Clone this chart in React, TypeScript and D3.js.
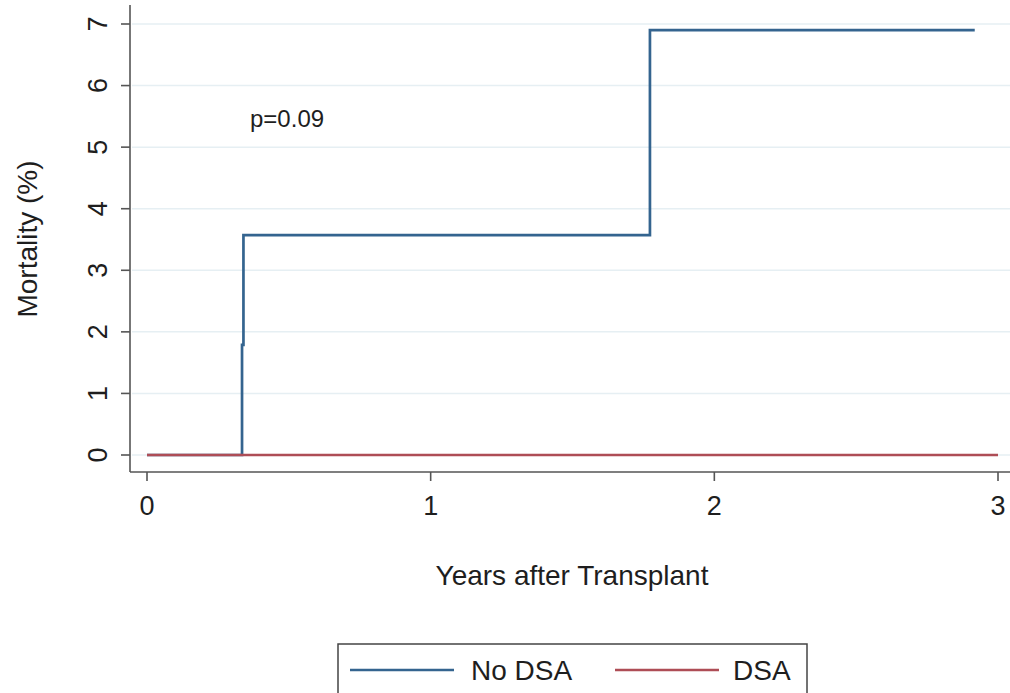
import React, { useRef, useEffect } from 'react';
import * as d3 from 'd3';

// Kaplan-Meier style cumulative mortality (step functions)
const noDsaYears = [0, 0.335, 0.34, 1.773, 2.918];
const noDsaMortality = [0, 1.79, 3.57, 6.9, 6.9];
const dsaYears = [0, 3];
const dsaMortality = [0, 0];

const xTicks = [0, 1, 2, 3];
const yTicks = [0, 1, 2, 3, 4, 5, 6, 7];
const legendLabels = ['No DSA', 'DSA'];
const pValueText = 'p=0.09';

function App() {
  const ref = useRef<SVGSVGElement>(null);

  useEffect(() => {
    const svg = d3.select(ref.current);
    svg.selectAll('*').remove();

    const width = 1010;
    const height = 693;
    const font = 'Liberation Sans, Arial, sans-serif';
    const blue = '#34648f';
    const red = '#ae4d56';
    const textColor = '#1e1e1e';

    const axisX = 130;
    const axisY = 472;

    const x = d3.scaleLinear().domain([0, 3]).range([147, 998]);
    const y = d3.scaleLinear().domain([0, 7]).range([455, 24]);

    svg.append('rect').attr('width', width).attr('height', height).attr('fill', '#fff');

    // gridlines
    svg.append('g')
      .selectAll('line')
      .data(yTicks)
      .enter().append('line')
      .attr('x1', axisX + 2)
      .attr('x2', width)
      .attr('y1', d => y(d))
      .attr('y2', d => y(d))
      .attr('stroke', '#e6eff3')
      .attr('stroke-width', 1.5);

    // y axis
    const yAxis = svg.append('g');
    yAxis.append('line')
      .attr('x1', axisX).attr('x2', axisX)
      .attr('y1', 5).attr('y2', axisY)
      .attr('stroke', '#555').attr('stroke-width', 1.6);
    yAxis.selectAll('.tick')
      .data(yTicks)
      .enter().append('line')
      .attr('x1', axisX - 9).attr('x2', axisX)
      .attr('y1', d => y(d)).attr('y2', d => y(d))
      .attr('stroke', '#555').attr('stroke-width', 1.6);
    yAxis.selectAll('text')
      .data(yTicks)
      .enter().append('text')
      .attr('transform', d => `translate(107,${y(d)}) rotate(-90)`)
      .attr('text-anchor', 'middle')
      .attr('font-family', font)
      .attr('font-size', 27)
      .attr('fill', textColor)
      .text(d => d);

    svg.append('text')
      .attr('transform', `translate(37,239) rotate(-90)`)
      .attr('text-anchor', 'middle')
      .attr('font-family', font)
      .attr('font-size', 28)
      .attr('fill', textColor)
      .text('Mortality (%)');

    // x axis
    const xAxis = svg.append('g');
    xAxis.append('line')
      .attr('x1', axisX).attr('x2', width)
      .attr('y1', axisY).attr('y2', axisY)
      .attr('stroke', '#555').attr('stroke-width', 1.6);
    xAxis.selectAll('.tick')
      .data(xTicks)
      .enter().append('line')
      .attr('x1', d => x(d)).attr('x2', d => x(d))
      .attr('y1', axisY).attr('y2', axisY + 9)
      .attr('stroke', '#555').attr('stroke-width', 1.6);
    xAxis.selectAll('text')
      .data(xTicks)
      .enter().append('text')
      .attr('x', d => x(d))
      .attr('y', 515)
      .attr('text-anchor', 'middle')
      .attr('font-family', font)
      .attr('font-size', 27)
      .attr('fill', textColor)
      .text(d => d);

    svg.append('text')
      .attr('x', 572)
      .attr('y', 585)
      .attr('text-anchor', 'middle')
      .attr('font-family', font)
      .attr('font-size', 28)
      .attr('fill', textColor)
      .text('Years after Transplant');

    // step lines (DSA drawn last, it sits on top at zero)
    const line = d3.line<[number, number]>()
      .x(d => x(d[0]))
      .y(d => y(d[1]))
      .curve(d3.curveStepAfter);

    svg.append('path')
      .datum(noDsaYears.map((t, i) => [t, noDsaMortality[i]] as [number, number]))
      .attr('d', line)
      .attr('fill', 'none')
      .attr('stroke', blue)
      .attr('stroke-width', 2.7);

    svg.append('path')
      .datum(dsaYears.map((t, i) => [t, dsaMortality[i]] as [number, number]))
      .attr('d', line)
      .attr('fill', 'none')
      .attr('stroke', red)
      .attr('stroke-width', 2.7);

    svg.append('text')
      .attr('x', 250)
      .attr('y', 127)
      .attr('font-family', font)
      .attr('font-size', 24)
      .attr('fill', textColor)
      .text(pValueText);

    // legend
    const legend = svg.append('g');
    legend.append('rect')
      .attr('x', 338).attr('y', 644)
      .attr('width', 469).attr('height', 70)
      .attr('fill', '#fff')
      .attr('stroke', '#444')
      .attr('stroke-width', 1.5);
    const items = [
      { label: legendLabels[0], color: blue, x1: 350, tx: 471 },
      { label: legendLabels[1], color: red, x1: 615, tx: 733 },
    ];
    items.forEach(it => {
      legend.append('line')
        .attr('x1', it.x1).attr('x2', it.x1 + 104)
        .attr('y1', 670).attr('y2', 670)
        .attr('stroke', it.color).attr('stroke-width', 2.7);
      legend.append('text')
        .attr('x', it.tx).attr('y', 680)
        .attr('font-family', font)
        .attr('font-size', 28)
        .attr('fill', textColor)
        .text(it.label);
    });
  }, []);

  return (
    <svg
      ref={ref}
      width={1010}
      height={693}
      style={{ position: 'absolute', left: 0, top: 0 }}
    ></svg>
  );
}

export default App;
